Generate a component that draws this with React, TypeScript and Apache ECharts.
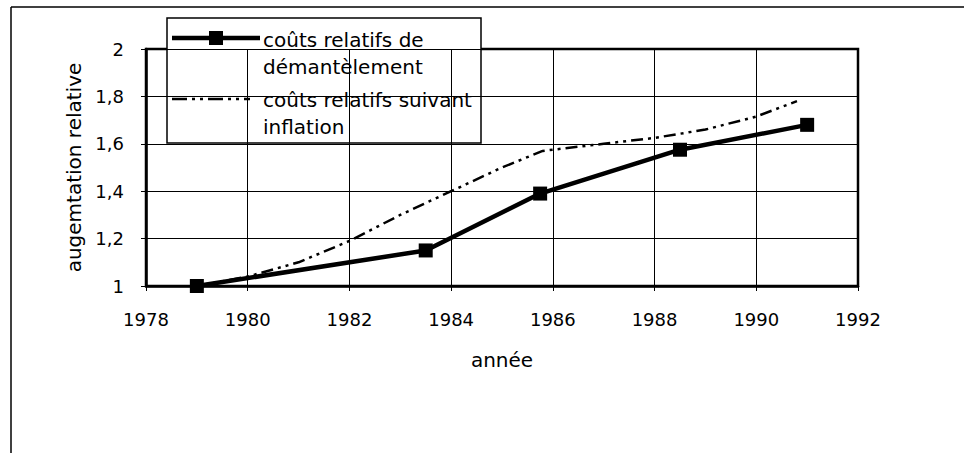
import React, { useEffect, useRef } from "react";
import * as echarts from "echarts";

const xTicks = [1978, 1980, 1982, 1984, 1986, 1988, 1990, 1992];
const yTicks = [1, 1.2, 1.4, 1.6, 1.8, 2];

const demantYears = [1979, 1983.5, 1985.75, 1988.5, 1991];
const demantValues = [1.0, 1.15, 1.39, 1.575, 1.68];

const inflationYears = [1979, 1980, 1981, 1982, 1983, 1984, 1985, 1985.8, 1987, 1988, 1989, 1990, 1990.8];
const inflationValues = [1.0, 1.04, 1.1, 1.19, 1.3, 1.4, 1.5, 1.57, 1.6, 1.625, 1.66, 1.715, 1.78];

const seriesNames = ["coûts relatifs de\ndémantèlement", "coûts relatifs suivant\ninflation"];

const FONT = "DejaVu Sans";

export default function App() {
  const ref = useRef<HTMLDivElement>(null);
  useEffect(() => {
    if (!ref.current) return;
    const chart = echarts.init(ref.current, null, { renderer: "svg" });
    const lines1 = seriesNames[0].split("\n");
    const lines2 = seriesNames[1].split("\n");
    chart.setOption({
      animation: false,
      backgroundColor: "#ffffff",
      textStyle: { fontFamily: FONT, color: "#000" },
      grid: {
        left: 146,
        right: 106,
        top: 49,
        bottom: 167,
        show: true,
        borderColor: "#000",
        borderWidth: 2.5,
        backgroundColor: "transparent",
      },
      xAxis: {
        type: "value",
        min: xTicks[0],
        max: xTicks[xTicks.length - 1],
        interval: 2,
        name: "année",
        nameLocation: "middle",
        nameGap: 64,
        nameTextStyle: { fontFamily: FONT, fontSize: 20, color: "#000" },
        axisLine: { show: true, lineStyle: { color: "#000", width: 2.5 } },
        axisTick: { show: true, inside: false, length: 5, lineStyle: { color: "#000", width: 1 } },
        axisLabel: {
          margin: 24,
          fontFamily: FONT,
          fontSize: 18,
          color: "#000",
          formatter: (v: number) => String(v),
        },
        splitLine: { show: true, lineStyle: { color: "#000", width: 1 } },
      },
      yAxis: {
        type: "value",
        min: yTicks[0],
        max: yTicks[yTicks.length - 1],
        interval: 0.2,
        name: "augemtation relative",
        nameLocation: "middle",
        nameGap: 62,
        nameRotate: 90,
        nameTextStyle: { fontFamily: FONT, fontSize: 20, color: "#000" },
        axisLine: { show: true, lineStyle: { color: "#000", width: 2.5 } },
        axisTick: { show: true, inside: false, length: 5, lineStyle: { color: "#000", width: 1 } },
        axisLabel: {
          margin: 22,
          fontFamily: FONT,
          fontSize: 18,
          color: "#000",
          formatter: (v: number) => String(Number(v.toFixed(1))).replace(".", ","),
        },
        splitLine: { show: true, lineStyle: { color: "#000", width: 1 } },
      },
      series: [
        {
          name: seriesNames[1],
          type: "line",
          data: inflationYears.map((y, i) => [y, inflationValues[i]]),
          showSymbol: false,
          symbol: "none",
          lineStyle: { color: "#000", width: 2.5, type: [12, 5, 3, 5, 3, 5] },
          z: 3,
        },
        {
          name: seriesNames[0],
          type: "line",
          data: demantYears.map((y, i) => [y, demantValues[i]]),
          symbol: "rect",
          symbolSize: 14,
          itemStyle: { color: "#000" },
          lineStyle: { color: "#000", width: 4.5 },
          z: 4,
        },
      ],
      graphic: [
        { type: "line", z: 50, shape: { x1: 11, y1: 7, x2: 964, y2: 7 }, style: { stroke: "#000", lineWidth: 1.5 } },
        { type: "line", z: 50, shape: { x1: 11, y1: 7, x2: 11, y2: 453 }, style: { stroke: "#000", lineWidth: 1.5 } },
        {
          type: "group",
          z: 100,
          children: [
            { type: "rect", shape: { x: 167, y: 18, width: 314, height: 125 }, style: { fill: "#fff", stroke: "#000", lineWidth: 1.5 } },
            { type: "line", shape: { x1: 172, y1: 38, x2: 260, y2: 38 }, style: { stroke: "#000", lineWidth: 4.5 } },
            { type: "rect", shape: { x: 209, y: 31, width: 14, height: 14 }, style: { fill: "#000" } },
            { type: "text", x: 263, y: 40, style: { text: lines1[0], fontFamily: FONT, fontSize: 20, fill: "#000", verticalAlign: "middle" } },
            { type: "text", x: 263, y: 67, style: { text: lines1[1], fontFamily: FONT, fontSize: 20, fill: "#000", verticalAlign: "middle" } },
            { type: "line", shape: { x1: 172, y1: 99, x2: 250, y2: 99 }, style: { stroke: "#000", lineWidth: 2.5, lineDash: [15, 5, 3, 5, 3, 5] } },
            { type: "text", x: 263, y: 100, style: { text: lines2[0], fontFamily: FONT, fontSize: 20, fill: "#000", verticalAlign: "middle" } },
            { type: "text", x: 263, y: 127, style: { text: lines2[1], fontFamily: FONT, fontSize: 20, fill: "#000", verticalAlign: "middle" } },
          ],
        },
      ],
    });
    return () => chart.dispose();
  }, []);
  return (
    <div
      ref={ref}
      style={{ position: "fixed", left: 0, top: 0, width: 964, height: 453, background: "#fff" }}
    />
  );
}
